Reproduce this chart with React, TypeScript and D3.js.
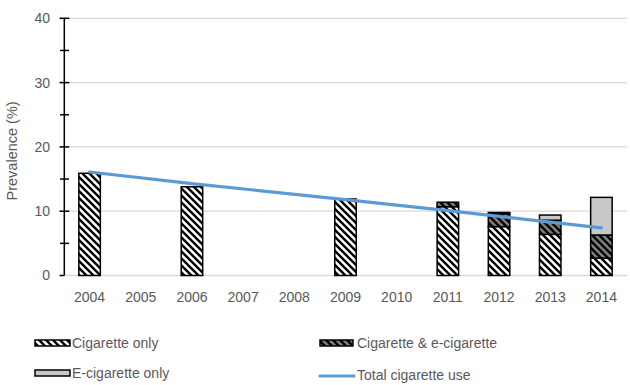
import React from "react";
import * as d3 from "d3";

const years = ["2004","2005","2006","2007","2008","2009","2010","2011","2012","2013","2014"];
const cigOnly = [15.9, 0, 13.8, 0, 0, 11.9, 0, 10.7, 7.6, 6.4, 2.7];
const dual = [0, 0, 0, 0, 0, 0, 0, 0.7, 2.0, 2.2, 3.6];
const eOnly = [0, 0, 0, 0, 0, 0, 0, 0, 0.2, 0.8, 5.85];
const trendYears = ["2004","2006","2009","2011","2012","2013","2014"];
const trendValues = [16.1, 14.3, 11.8, 10.1, 9.2, 8.3, 7.4];
const yTicks = [0, 10, 20, 30, 40];
const yMinor = [5, 15, 25, 35];
const seriesNames = ["Cigarette only", "Cigarette & e-cigarette", "E-cigarette only", "Total cigarette use"];

const W = 630, H = 385;
const FONT = "'Liberation Sans', Arial, sans-serif";
const TXT = "#595959";

export default function App() {
  const x = d3.scaleBand<string>().domain(years).range([64, 627]).padding(0);
  const y = d3.scaleLinear().domain([0, 40]).range([275.5, 18.3]);
  const bw = x.bandwidth() * 0.42;
  const axisX = 64.3;

  const stackData = years.map((yr, i) => ({ yr, a: cigOnly[i], b: dual[i], c: eOnly[i] }));
  const stack = d3.stack<any>().keys(["a", "b", "c"])(stackData);
  const fills = ["url(#hatchWhite)", "url(#hatchGray)", "#c8c8c8"];

  const line = d3.line<number>()
    .x((_, i) => (x(trendYears[i]) as number) + x.bandwidth() / 2)
    .y((v) => y(v));

  return (
    <svg width={W} height={H} style={{ position: "absolute", left: 0, top: 0 }}>
      <defs>
        <pattern id="hatchWhite" patternUnits="userSpaceOnUse" width="7" height="7">
          <rect width="7" height="7" fill="#fff" />
          <path d="M-2,-2 L9,9 M-2,5 L2,9 M5,-2 L9,2" stroke="#000" strokeWidth="2.4" />
        </pattern>
        <pattern id="hatchGray" patternUnits="userSpaceOnUse" width="7" height="7">
          <rect width="7" height="7" fill="#808080" />
          <path d="M-2,-2 L9,9 M-2,5 L2,9 M5,-2 L9,2" stroke="#000" strokeWidth="2.4" />
        </pattern>
      </defs>
      <rect width={W} height={H} fill="#fff" />
      {/* gridlines */}
      {yTicks.map((t) => (
        <line key={"g" + t} x1={axisX} x2={627} y1={y(t)} y2={y(t)} stroke="#d9d9d9" strokeWidth={1.3} />
      ))}
      {/* bars */}
      {stack.map((s, si) =>
        s.map((d, i) => {
          const h = y(d[0]) - y(d[1]);
          if (h <= 0.01) return null;
          return (
            <rect
              key={si + "-" + i}
              x={(x(years[i]) as number) + (x.bandwidth() - bw) / 2}
              y={y(d[1])}
              width={bw}
              height={h}
              fill={fills[si]}
              stroke="#000"
              strokeWidth={1.5}
            />
          );
        })
      )}
      {/* y axis */}
      <line x1={axisX} x2={axisX} y1={y(40)} y2={y(0)} stroke="#000" strokeWidth={1.5} />
      {yTicks.map((t) => (
        <line key={"t" + t} x1={59.5} x2={t === 0 ? axisX : 69.3} y1={y(t)} y2={y(t)} stroke="#000" strokeWidth={1.5} />
      ))}
      {yMinor.map((t) => (
        <line key={"m" + t} x1={60} x2={69} y1={y(t)} y2={y(t)} stroke="#000" strokeWidth={1.5} />
      ))}
      {yTicks.map((t) => (
        <text key={"l" + t} x={50} y={y(t)} dy="0.35em" textAnchor="end" fontFamily={FONT} fontSize={14} fill={TXT}>
          {t}
        </text>
      ))}
      <text
        transform={`translate(17,${(y(0) + y(40)) / 2 + 4}) rotate(-90)`}
        textAnchor="middle"
        fontFamily={FONT}
        fontSize={14.5}
        fill={TXT}
      >
        Prevalence (%)
      </text>
      {/* x labels */}
      {years.map((yr) => (
        <text key={yr} x={(x(yr) as number) + x.bandwidth() / 2} y={302} textAnchor="middle" fontFamily={FONT} fontSize={14} fill={TXT}>
          {yr}
        </text>
      ))}
      {/* trend line */}
      <path d={line(trendValues) || ""} fill="none" stroke="#5b9bd5" strokeWidth={3.2} strokeLinecap="round" />
      {/* legend */}
      <g fontFamily={FONT} fontSize={14} fill={TXT}>
        <rect x={35} y={340} width={35} height={6} fill="url(#hatchWhite)" stroke="#000" strokeWidth={1.5} />
        <text x={72} y={343} dy="0.35em">{seriesNames[0]}</text>
        <rect x={320} y={340} width={33} height={6} fill="url(#hatchGray)" stroke="#000" strokeWidth={1.5} />
        <text x={357} y={343} dy="0.35em">{seriesNames[1]}</text>
        <rect x={35} y={370} width={35} height={6} fill="#c8c8c8" stroke="#000" strokeWidth={1.5} />
        <text x={72} y={373.5} dy="0.35em">{seriesNames[2]}</text>
        <line x1={320} x2={354} y1={376} y2={376} stroke="#5b9bd5" strokeWidth={3.2} strokeLinecap="round" />
        <text x={357} y={375} dy="0.35em">{seriesNames[3]}</text>
      </g>
    </svg>
  );
}
